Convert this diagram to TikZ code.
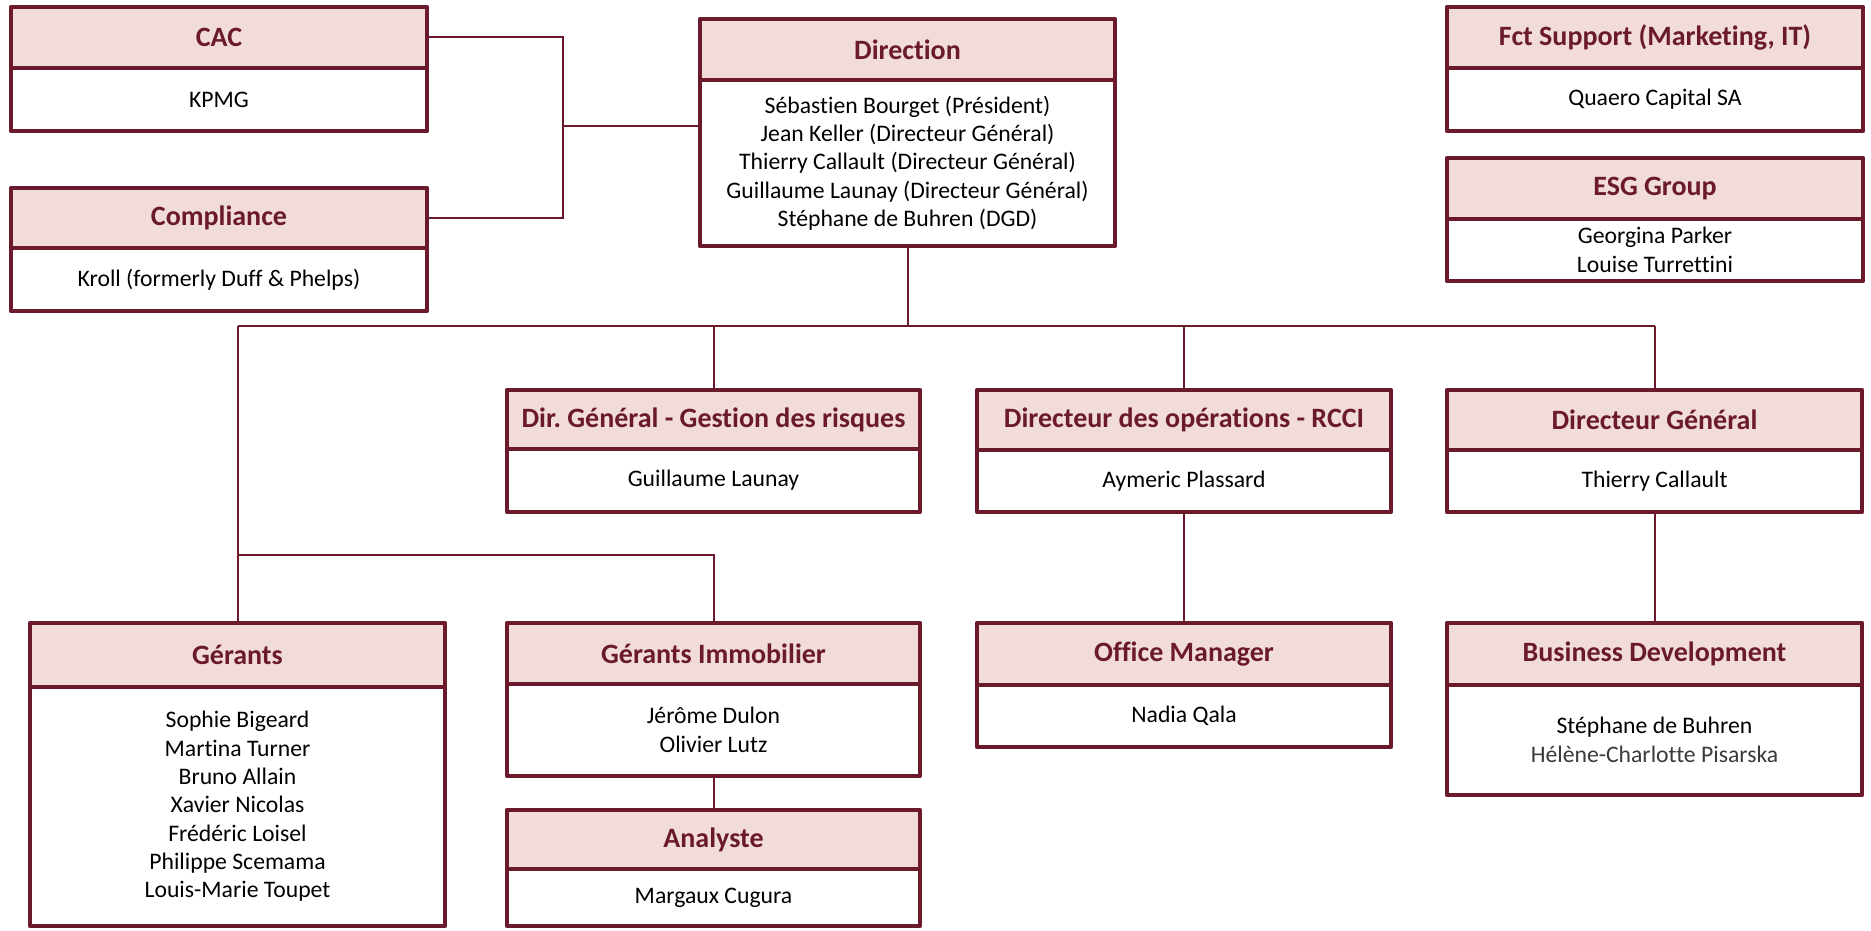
\documentclass[tikz,border=0pt]{standalone}
\usepackage{fontspec}
\setmainfont{Carlito}[Ligatures={NoCommon}]
\frenchspacing
\definecolor{maroon}{HTML}{6B1A2C}
\definecolor{hdrfill}{HTML}{F2DCDB}
\definecolor{greytext}{HTML}{3A3A3A}
\tikzset{
  hdr/.style={anchor=north west, inner sep=0pt, outer sep=0pt, fill=hdrfill, text=maroon, font=\fontsize{28}{33}\selectfont\bfseries, align=center},
  bdy/.style={anchor=north west, inner sep=0pt, outer sep=0pt, fill=white, text=black, font=\fontsize{23.7}{28.3}\selectfont, align=center},
  bord/.style={draw=maroon, line width=4.6pt, line join=round},
  conn/.style={draw=maroon, line width=2pt}
}
\newcommand{\orgbox}[8]{% name, x1, y1, x2, ydiv, y2, title, body
  \pgfmathsetmacro{\obW}{#4-#2-4}%
  \pgfmathsetmacro{\obH}{#5-#3-2}%
  \pgfmathsetmacro{\obB}{#6-#5-2}%
  \node[hdr, minimum width=\obW pt, minimum height=\obH pt] (#1h) at ({#2+2},{#3+2}) {#7};
  \node[bdy, minimum width=\obW pt, minimum height=\obB pt] (#1) at ({#2+2},#5) {#8};
  \draw[bord] (#1h.north west) rectangle (#1.south east);
  \draw[bord] (#1h.south west) -- (#1h.south east);
}
\begin{document}
\begin{tikzpicture}[x=1pt,y=-1pt]
\useasboundingbox[fill=white] (0,0) rectangle (1871,931);
\coordinate (bus) at (0,326);
\coordinate (mid) at (0,555);
\coordinate (j1) at (563,126);
\coordinate (jx) at (563,0);
% boxes
\orgbox{cac}{9}{5}{429}{68}{133}{CAC}{KPMG}
\orgbox{comp}{9}{186}{429}{248}{313}{Compliance}{Kroll (formerly Duff \& Phelps)}
\orgbox{dir}{698}{17}{1117}{80}{248}{Direction}{Sébastien Bourget (Président)\\Jean Keller (Directeur Général)\\Thierry Callault (Directeur Général)\\Guillaume Launay (Directeur Général)\\Stéphane de Buhren (DGD)}
\orgbox{fct}{1445}{5}{1865}{68}{133}{Fct Support (Marketing, IT)}{Quaero Capital SA}
\orgbox{esg}{1445}{156}{1865}{219}{283}{ESG Group}{Georgina Parker\\Louise Turrettini}
\orgbox{dgr}{505}{388}{922}{449}{514}{Dir. Général - Gestion des risques}{Guillaume Launay}
\orgbox{ops}{975}{388}{1393}{450}{514}{Directeur des opérations - RCCI}{Aymeric Plassard}
\orgbox{dg}{1445}{388}{1864}{450}{514}{Directeur Général}{Thierry Callault}
\orgbox{ger}{28}{621}{447}{687}{928}{Gérants}{Sophie Bigeard\\Martina Turner\\Bruno Allain\\Xavier Nicolas\\Frédéric Loisel\\Philippe Scemama\\Louis-Marie Toupet}
\orgbox{gim}{505}{621}{922}{684}{778}{Gérants Immobilier}{Jérôme Dulon\\Olivier Lutz}
\orgbox{ana}{505}{808}{922}{869}{928}{Analyste}{Margaux Cugura}
\orgbox{off}{975}{621}{1393}{685}{749}{Office Manager}{Nadia Qala}
\orgbox{biz}{1445}{621}{1864}{685}{797}{Business Development}{Stéphane de Buhren\\\textcolor{greytext}{Hélène-Charlotte Pisarska}}
% connectors
\draw[conn] (cach.east) -- (cach.east -| jx) |- (comph.east);
\draw[conn] (j1) -- (j1 -| dir.west);
\draw[conn] (dir.south) -- (dir.south |- bus);
\draw[conn] (gerh.north |- bus) -- (dgh.north |- bus);
\draw[conn] (gerh.north |- bus) -- (gerh.north);
\draw[conn] (dgrh.north |- bus) -- (dgrh.north);
\draw[conn] (opsh.north |- bus) -- (opsh.north);
\draw[conn] (dgh.north |- bus) -- (dgh.north);
\draw[conn] (gerh.north |- mid) -| (gimh.north);
\draw[conn] (gim.south) -- (anah.north);
\draw[conn] (ops.south) -- (offh.north);
\draw[conn] (dg.south) -- (bizh.north);
\end{tikzpicture}
\end{document}
